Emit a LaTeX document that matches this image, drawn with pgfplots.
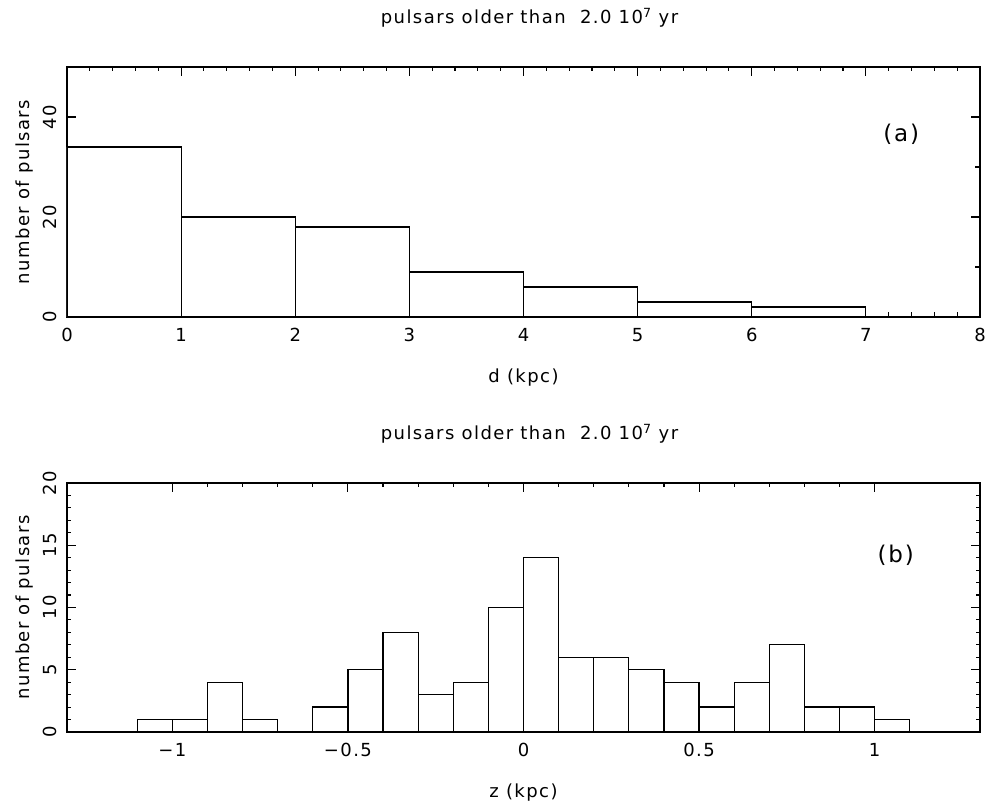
\documentclass[border=0pt]{standalone}
\usepackage{fontspec}
\setmainfont[LetterSpace=8]{DejaVu Sans}
\usepackage{pgfplots}
\pgfplotsset{compat=1.18}
\begin{document}
\begin{tikzpicture}[font=\fontsize{18}{21}\selectfont]
\path[use as bounding box] (0,0) rectangle (986pt,810pt);
\pgfplotsset{
  every axis/.append style={
    scale only axis, width=913pt,
    font=\fontsize{18}{21}\selectfont,
    axis line style={line width=1.5pt},
    major tick length=9pt, minor tick length=4.5pt,
    every tick/.style={black, line width=1.1pt},
    tick align=inside,
    /pgf/number format/assume math mode=true,
    xticklabel shift=8pt,
    yticklabel shift=7pt,
    yticklabel style={rotate=90, anchor=south},
    xlabel style={at={(axis description cs:0.5,0)}, anchor=center, yshift=-61pt},
    ylabel style={at={(axis description cs:-0.047,0.5)}, anchor=center},
    title style={at={(axis description cs:0.5,1)}, anchor=base, yshift=37pt, xshift=6pt},
  }
}
\begin{axis}[
  at={(67pt,493pt)}, anchor=south west, height=250pt,
  xmin=0, xmax=8, ymin=0, ymax=50,
  xtick={0,1,2,3,4,5,6,7,8}, minor x tick num=4,
  ytick={0,20,40}, minor y tick num=1,
  xlabel={d (kpc)}, ylabel={number of pulsars},
  title={pulsars older than\ \ 2.0 10\textsuperscript{7} yr},
]
\addplot[ybar interval, draw=black, fill=white, line width=1.2pt] coordinates {
  (0,34) (1,20) (2,18) (3,9) (4,6) (5,3) (6,2) (7,0)
};
\node[font=\fontsize{23}{26}\selectfont] at (axis cs:7.31,36.6) {(a)};
\end{axis}
\begin{axis}[
  at={(67pt,78pt)}, anchor=south west, height=249pt,
  xmin=-1.3, xmax=1.3, ymin=0, ymax=20,
  xtick={-1,-0.5,0,0.5,1}, xticklabels={−1,−0.5,0,0.5,1}, minor x tick num=4,
  ytick={0,5,10,15,20}, minor y tick num=4,
  xlabel={z (kpc)}, ylabel={number of pulsars},
  title={pulsars older than\ \ 2.0 10\textsuperscript{7} yr},
]
\addplot[ybar interval, draw=black, fill=white, line width=1.2pt] coordinates {
  (-1.1,1) (-1.0,1) (-0.9,4) (-0.8,1) (-0.7,0) (-0.6,2) (-0.5,5) (-0.4,8)
  (-0.3,3) (-0.2,4) (-0.1,10) (0.0,14) (0.1,6) (0.2,6) (0.3,5) (0.4,4)
  (0.5,2) (0.6,4) (0.7,7) (0.8,2) (0.9,2) (1.0,1) (1.1,0)
};
\node[font=\fontsize{23}{26}\selectfont] at (axis cs:1.06,14.2) {(b)};
\end{axis}
\end{tikzpicture}
\end{document}
